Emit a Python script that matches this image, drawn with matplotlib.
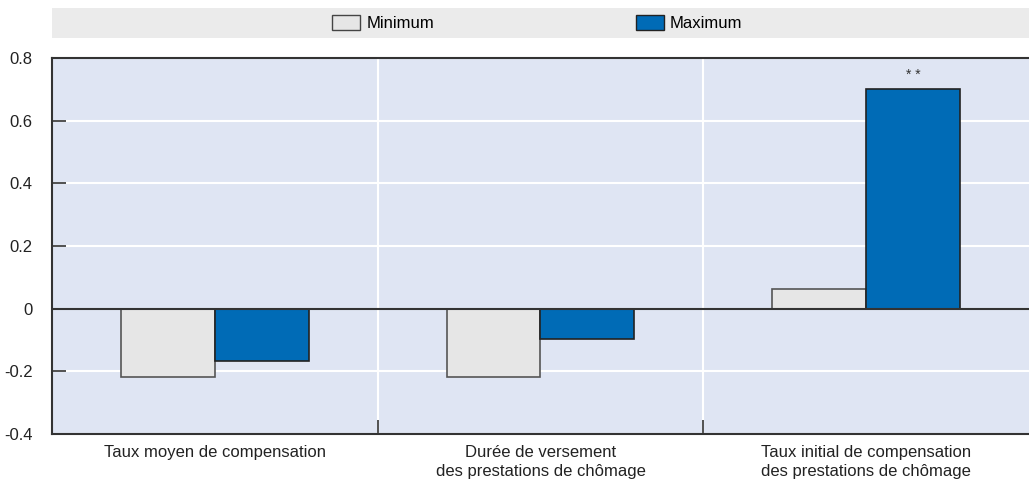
import numpy as np
import matplotlib
matplotlib.use("Agg")
import matplotlib.pyplot as plt
from matplotlib.patches import Rectangle, Patch

plt.rcParams['font.family'] = ['Liberation Sans Narrow', 'Liberation Sans', 'DejaVu Sans']

categories = ["Taux moyen de compensation",
              "Durée de versement\ndes prestations de chômage",
              "Taux initial de compensation\ndes prestations de chômage"]
minimum = [-0.217, -0.217, 0.064]
maximum = [-0.166, -0.096, 0.70]
stars = ["", "", "**"]
yticks = [-0.4, -0.2, 0, 0.2, 0.4, 0.6, 0.8]

bg = "#dfe5f3"
c_min = "#e6e6e6"
c_max = "#006bb6"

fig = plt.figure(figsize=(10.29, 4.84), dpi=100)
ax = fig.add_axes([0.0505, 0.1033, 0.9495, 0.7767])
ax.set_facecolor(bg)

x = np.arange(len(categories))
w = 0.288
ax.bar(x - w / 2, minimum, w, color=c_min, edgecolor="#555555", linewidth=1.2, zorder=3)
ax.bar(x + w / 2, maximum, w, color=c_max, edgecolor="#222222", linewidth=1.2, zorder=3)

for xi, v, s in zip(x, maximum, stars):
    if s:
        ax.text(xi + w / 2, v + 0.025, "* *", ha="center", va="bottom", fontsize=10, color="#333333")

ax.set_xlim(-0.5, len(categories) - 0.5)
ax.set_ylim(-0.4, 0.8)
ax.set_yticks(yticks)
ax.set_yticklabels([f"{t:g}" for t in yticks], fontsize=12)

# category labels at group centres, boundary ticks between groups
ax.set_xticks(x)
ax.set_xticklabels(categories, fontsize=12, color="#222222", linespacing=1.3)
ax.tick_params(axis="x", length=0, pad=8)
ax.set_xticks(x[:-1] + 0.5, minor=True)
ax.tick_params(axis="x", which="minor", direction="in", length=10, color="#333333", width=1.2)
ax.tick_params(axis="y", direction="in", length=10, color="#333333", width=1.2, pad=14, labelcolor="#222222")

ax.grid(axis="y", color="white", linewidth=1.5, zorder=1)
ax.grid(axis="x", which="minor", color="white", linewidth=1.5, zorder=1)
ax.set_axisbelow(True)
ax.axhline(0, color="#333333", linewidth=1.5, zorder=4)

for side in ("left", "bottom", "top"):
    ax.spines[side].set_color("#333333")
    ax.spines[side].set_linewidth(1.5)
ax.spines["right"].set_visible(False)

# legend band
fig.patches.append(Rectangle((0.0505, 0.9215), 0.9495, 0.062, transform=fig.transFigure,
                             facecolor="#ebebeb", edgecolor="none", zorder=0))
handles = [Patch(facecolor=c_min, edgecolor="#444444", label="Minimum"),
           Patch(facecolor=c_max, edgecolor="#222222", label="Maximum")]
fig.legend(handles=handles, loc="center", bbox_to_anchor=(0.522, 0.9525), ncol=2,
           frameon=False, fontsize=12, handlelength=1.7, handleheight=1.0,
           handletextpad=0.35, columnspacing=12.1)

fig.savefig("out.png", dpi=100)
